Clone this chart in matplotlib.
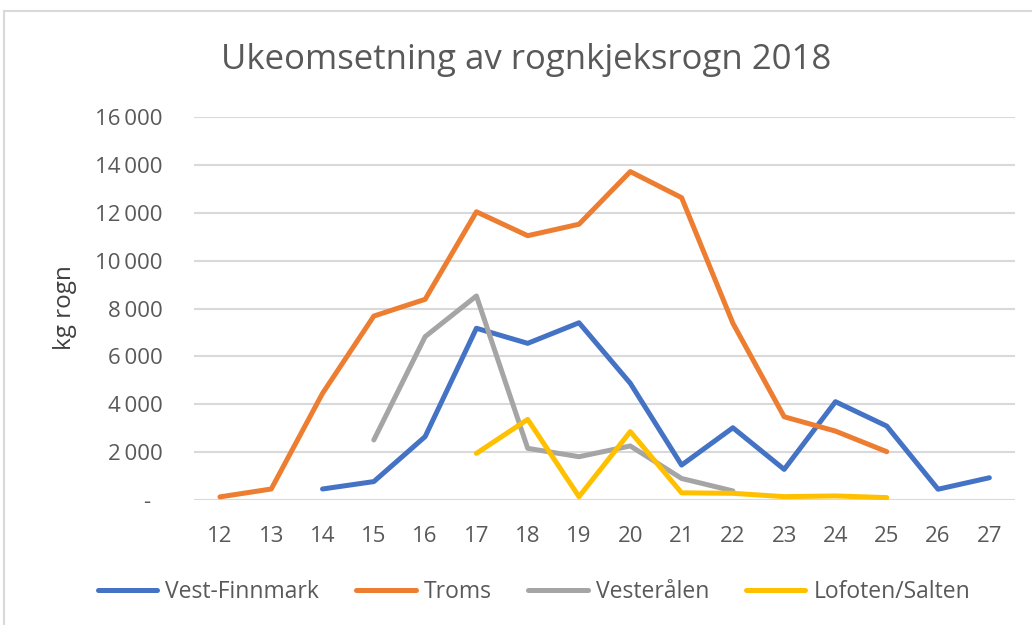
import numpy as np
import matplotlib.pyplot as plt
from matplotlib.patches import Rectangle
from matplotlib.ticker import FuncFormatter

# =========================================
# DATA
# =========================================
weeks = [12, 13, 14, 15, 16, 17, 18, 19, 20, 21, 22, 23, 24, 25, 26, 27]

vest_finnmark_weeks = [14, 15, 16, 17, 18, 19, 20, 21, 22, 23, 24, 25, 26, 27]
vest_finnmark = [460, 770, 2650, 7180, 6550, 7410, 4880, 1460, 3020, 1280, 4110, 3090, 450, 930]

troms_weeks = [12, 13, 14, 15, 16, 17, 18, 19, 20, 21, 22, 23, 24, 25]
troms = [130, 460, 4460, 7690, 8390, 12050, 11050, 11530, 13730, 12640, 7390, 3480, 2880, 2020]

vesteralen_weeks = [15, 16, 17, 18, 19, 20, 21, 22]
vesteralen = [2510, 6830, 8530, 2160, 1810, 2260, 900, 380]

lofoten_weeks = [17, 18, 19, 20, 21, 22, 23, 24, 25]
lofoten = [1950, 3370, 140, 2860, 300, 280, 140, 170, 100]

series = [
    ("Vest-Finnmark", vest_finnmark_weeks, vest_finnmark, "#4472C4"),
    ("Troms", troms_weeks, troms, "#ED7D31"),
    ("Vesterålen", vesteralen_weeks, vesteralen, "#A5A5A5"),
    ("Lofoten/Salten", lofoten_weeks, lofoten, "#FFC000"),
]

y_ticks = [0, 2000, 4000, 6000, 8000, 10000, 12000, 14000, 16000]

# =========================================
# PLOT
# =========================================
plt.rcParams["font.family"] = ["Open Sans", "DejaVu Sans"]

fig = plt.figure(figsize=(10.32, 6.25), dpi=100)
ax = fig.add_axes([194.3 / 1032, 1 - 500 / 625, (1015 - 194.3) / 1032, (500 - 117.3) / 625])

# outer chart border (top and left edges visible)
fig.patches.append(Rectangle((4 / 1032, -0.1), 1.2, 1 - 11 / 625 + 0.1,
                             transform=fig.transFigure, fill=False,
                             edgecolor="#D9D9D9", linewidth=1.5))

for name, xs, ys, color in series:
    ax.plot(xs, ys, color=color, linewidth=3.6, label=name,
            solid_joinstyle="round", solid_capstyle="round", zorder=3)

ax.set_xlim(weeks[0] - 0.5, weeks[-1] + 0.5)
ax.set_ylim(0, 16000)
ax.set_xticks(weeks)
ax.set_xticklabels([str(w) for w in weeks])
ax.set_yticks(y_ticks)


def fmt(v, pos):
    if v == 0:
        return "-  "
    return f"{int(v):,}".replace(",", "\u2009")


ax.yaxis.set_major_formatter(FuncFormatter(fmt))

ax.tick_params(axis="both", length=0, colors="#595959", labelsize=16)
ax.tick_params(axis="y", pad=23)
ax.tick_params(axis="x", pad=19)

ax.grid(axis="y", color="#D9D9D9", linewidth=1.5)
ax.set_axisbelow(True)
for spine in ax.spines.values():
    spine.set_visible(False)

fig.text(65 / 1032, 1 - 308 / 625, "kg rogn", rotation=90, ha="center", va="center",
         fontsize=17.5, color="#404040")

fig.text(526 / 1032, 1 - 60 / 625, "Ukeomsetning av rognkjeksrogn 2018", ha="center", va="center",
         fontsize=25, color="#595959")

leg = fig.legend(loc="center", bbox_to_anchor=(534 / 1032, 1 - 592 / 625), ncol=4, frameon=False,
                 fontsize=16.5, handlelength=2.6, columnspacing=1.6, handletextpad=0.35)
for t in leg.get_texts():
    t.set_color("#595959")

plt.savefig("out.png", dpi=100)
plt.close()
